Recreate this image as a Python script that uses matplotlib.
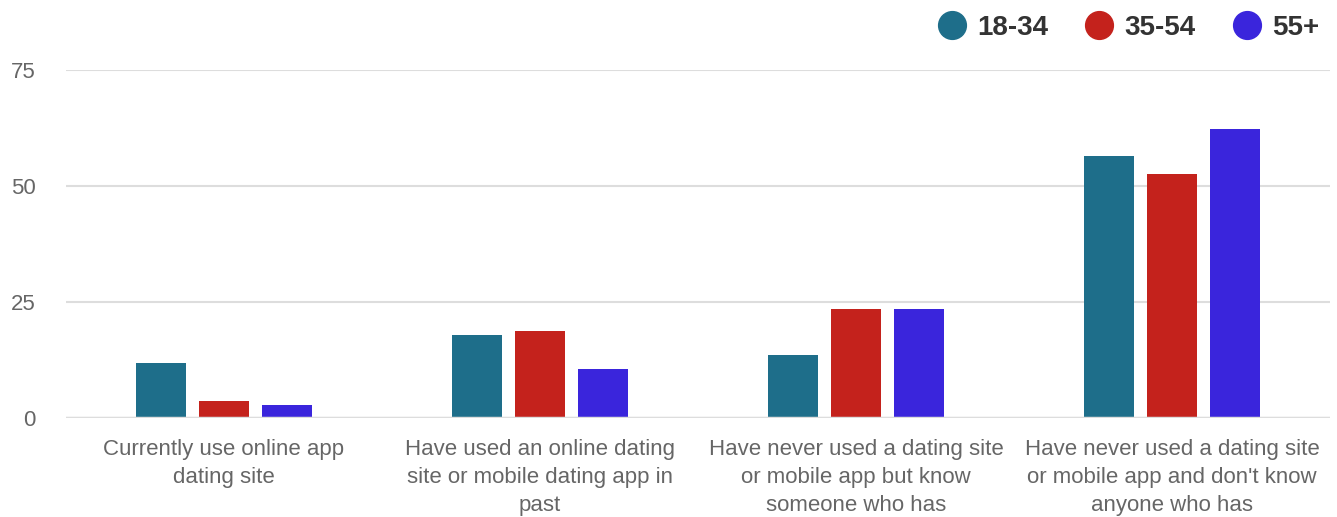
import numpy as np
import matplotlib
matplotlib.use("Agg")
import matplotlib.pyplot as plt
from matplotlib.lines import Line2D

# data
categories = [
    "Currently use online app\ndating site",
    "Have used an online dating\nsite or mobile dating app in\npast",
    "Have never used a dating site\nor mobile app but know\nsomeone who has",
    "Have never used a dating site\nor mobile app and don't know\nanyone who has",
]
series_names = ["18-34", "35-54", "55+"]
age_18_34 = [11.9, 17.9, 13.6, 56.4]
age_35_54 = [3.7, 18.8, 23.5, 52.5]
age_55_plus = [2.8, 10.6, 23.5, 62.4]
y_ticks = [0, 25, 50, 75]

colors = ["#1e6e8a", "#c4221c", "#3a25dc"]
text_grey = "#666666"

plt.rcParams["font.family"] = ["Liberation Sans", "DejaVu Sans"]

fig = plt.figure(figsize=(13.37, 5.17), dpi=100)
ax = fig.add_axes([0.0494, 0.191, 0.9454, 0.6736])

x = np.arange(len(categories))
offsets = [-0.2, 0.0, 0.2]
for vals, off, col in zip([age_18_34, age_35_54, age_55_plus], offsets, colors):
    ax.bar(x + off, vals, width=0.158, color=col, zorder=3)

ax.set_xlim(-0.5, len(categories) - 0.5)
ax.set_ylim(0, 75)
ax.set_yticks(y_ticks)
ax.set_xticks(x)
ax.set_xticklabels(categories, fontsize=16, color=text_grey, linespacing=1.42)
ax.tick_params(axis="x", length=0, pad=15)
ax.tick_params(axis="y", length=0, pad=22, labelsize=16, labelcolor=text_grey)

ax.grid(axis="y", color="#dddddd", linewidth=1.5, zorder=0)
for s in ax.spines.values():
    s.set_visible(False)
ax.axhline(0, color="#dddddd", linewidth=2.5, zorder=4)

handles = [
    Line2D([], [], marker="o", linestyle="none", markersize=20,
           markerfacecolor=c, markeredgecolor=c)
    for c in colors
]
leg = fig.legend(handles, series_names, loc="upper right",
                 bbox_to_anchor=(1.0055, 1.02), ncol=3, frameon=False,
                 prop={"size": 20, "weight": "bold"}, handletextpad=0.42,
                 columnspacing=1.33, handlelength=1.0)
for t in leg.get_texts():
    t.set_color("#333333")

fig.savefig("out.png", dpi=100)
